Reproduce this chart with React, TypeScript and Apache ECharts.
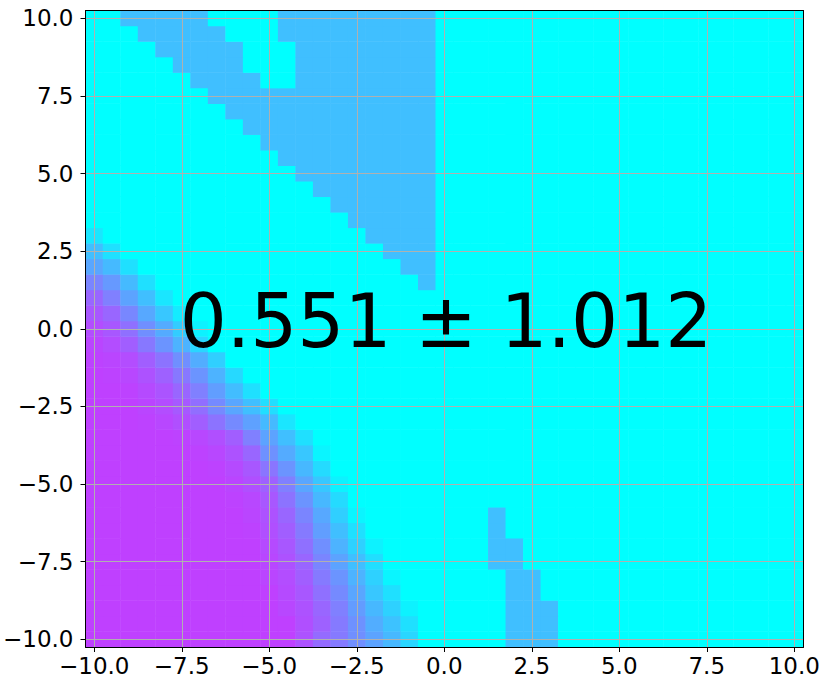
import React, { useEffect, useRef } from "react";
import * as echarts from "echarts";

// Grid cell centres (both axes), step 0.5
const cellCoords: number[] = [
  -10, -9.5, -9, -8.5, -8, -7.5, -7, -6.5, -6, -5.5, -5, -4.5, -4, -3.5, -3, -2.5, -2, -1.5, -1, -0.5,
  0, 0.5, 1, 1.5, 2, 2.5, 3, 3.5, 4, 4.5, 5, 5.5, 6, 6.5, 7, 7.5, 8, 8.5, 9, 9.5, 10,
];

const tickValues: number[] = [-10, -7.5, -5, -2.5, 0, 2.5, 5, 7.5, 10];

// Light-blue (value 0.25) runs: [y, xFrom, xTo]
const blueLevel = 0.25;
const blueRuns: [number, number, number][] = [
  [10, -9, -7], [10, -4.5, -0.5],
  [9.5, -8.5, -6.5], [9.5, -4.5, -0.5],
  [9, -8, -6], [9, -4, -0.5],
  [8.5, -7.5, -6], [8.5, -4, -0.5],
  [8, -7, -5.5], [8, -4, -0.5],
  [7.5, -6.5, -0.5],
  [7, -6, -0.5],
  [6.5, -5.5, -0.5],
  [6, -5, -0.5],
  [5.5, -4.5, -0.5],
  [5, -4, -0.5],
  [4.5, -3.5, -0.5],
  [4, -3, -0.5],
  [3.5, -2.5, -0.5],
  [3, -2, -0.5],
  [2.5, -1.5, -0.5],
  [2, -1, -0.5],
  [1.5, -0.5, -0.5],
  [-6, 1.5, 1.5], [-6.5, 1.5, 1.5],
  [-7, 1.5, 2], [-7.5, 1.5, 2],
  [-8, 2, 2.5], [-8.5, 2, 2.5],
  [-9, 2, 3], [-9.5, 2, 3], [-10, 2, 3],
];

// Purple gradient rows (values start at x = -10)
const gradientY: number[] = [
  3, 2.5, 2, 1.5, 1, 0.5, 0, -0.5, -1, -1.5, -2, -2.5, -3, -3.5,
  -4, -4.5, -5, -5.5, -6, -6.5, -7, -7.5, -8, -8.5, -9, -9.5, -10,
];
const gradientValues: number[][] = [
  [0.1],
  [0.25, 0.12],
  [0.35, 0.27, 0.12],
  [0.48, 0.4, 0.27, 0.12],
  [0.6, 0.5, 0.36, 0.25, 0.1],
  [0.66, 0.6, 0.47, 0.34, 0.22, 0.08],
  [0.7, 0.66, 0.56, 0.44, 0.33, 0.2, 0.05],
  [0.73, 0.7, 0.63, 0.53, 0.42, 0.3, 0.16],
  [0.74, 0.73, 0.7, 0.63, 0.55, 0.44, 0.32, 0.19],
  [0.75, 0.74, 0.72, 0.68, 0.62, 0.53, 0.42, 0.3, 0.15],
  [0.75, 0.75, 0.74, 0.71, 0.67, 0.6, 0.5, 0.38, 0.26, 0.12],
  [0.75, 0.75, 0.75, 0.73, 0.7, 0.65, 0.57, 0.46, 0.35, 0.25, 0.13],
  [0.75, 0.75, 0.75, 0.74, 0.72, 0.69, 0.63, 0.55, 0.46, 0.37, 0.27, 0.1],
  [0.75, 0.75, 0.75, 0.75, 0.75, 0.74, 0.72, 0.69, 0.63, 0.5, 0.36, 0.25, 0.12],
  [0.75, 0.75, 0.75, 0.75, 0.75, 0.75, 0.74, 0.72, 0.68, 0.6, 0.43, 0.33, 0.22, 0.04],
  [0.75, 0.75, 0.75, 0.75, 0.75, 0.75, 0.75, 0.74, 0.71, 0.66, 0.54, 0.42, 0.28, 0.14],
  [0.75, 0.75, 0.75, 0.75, 0.75, 0.75, 0.75, 0.75, 0.73, 0.69, 0.62, 0.5, 0.35, 0.22, 0.05],
  [0.75, 0.75, 0.75, 0.75, 0.75, 0.75, 0.75, 0.75, 0.74, 0.72, 0.66, 0.55, 0.42, 0.28, 0.14],
  [0.75, 0.75, 0.75, 0.75, 0.75, 0.75, 0.75, 0.75, 0.75, 0.73, 0.68, 0.6, 0.48, 0.34, 0.19, 0.04],
  [0.75, 0.75, 0.75, 0.75, 0.75, 0.75, 0.75, 0.75, 0.75, 0.74, 0.69, 0.63, 0.52, 0.38, 0.25, 0.12],
  [0.75, 0.75, 0.75, 0.75, 0.75, 0.75, 0.75, 0.75, 0.75, 0.75, 0.71, 0.66, 0.56, 0.44, 0.3, 0.18, 0.05],
  [0.75, 0.75, 0.75, 0.75, 0.75, 0.75, 0.75, 0.75, 0.75, 0.75, 0.72, 0.68, 0.6, 0.48, 0.36, 0.25, 0.13],
  [0.75, 0.75, 0.75, 0.75, 0.75, 0.75, 0.75, 0.75, 0.75, 0.75, 0.73, 0.7, 0.63, 0.52, 0.42, 0.3, 0.18, 0.04],
  [0.75, 0.75, 0.75, 0.75, 0.75, 0.75, 0.75, 0.75, 0.75, 0.75, 0.75, 0.71, 0.66, 0.56, 0.46, 0.35, 0.22, 0.12],
  [0.75, 0.75, 0.75, 0.75, 0.75, 0.75, 0.75, 0.75, 0.75, 0.75, 0.75, 0.72, 0.68, 0.6, 0.5, 0.39, 0.28, 0.18, 0.05],
  [0.75, 0.75, 0.75, 0.75, 0.75, 0.75, 0.75, 0.75, 0.75, 0.75, 0.75, 0.75, 0.69, 0.62, 0.52, 0.43, 0.32, 0.24, 0.12],
  [0.75, 0.75, 0.75, 0.75, 0.75, 0.75, 0.75, 0.75, 0.75, 0.75, 0.75, 0.75, 0.68, 0.58, 0.52, 0.44, 0.36, 0.28, 0.16],
];

const annotation = "0.551 ± 1.012";

function buildCells(): number[][] {
  const idx = (v: number) => cellCoords.indexOf(v);
  const grid: number[][] = cellCoords.map(() => cellCoords.map(() => 0)); // [yi][xi]
  blueRuns.forEach(([y, x0, x1]) => {
    const yi = idx(y);
    for (let xi = idx(x0); xi <= idx(x1); xi++) grid[yi][xi] = blueLevel;
  });
  gradientY.forEach((y, r) => {
    const yi = idx(y);
    gradientValues[r].forEach((v, xi) => {
      grid[yi][xi] = v;
    });
  });
  const out: number[][] = [];
  for (let yi = 0; yi < cellCoords.length; yi++) {
    for (let xi = 0; xi < cellCoords.length; xi++) out.push([xi, yi, grid[yi][xi]]);
  }
  return out;
}

const fmt = (v: number) => (v < 0 ? "\u2212" : "") + Math.abs(v).toFixed(1);

export default function App() {
  const ref = useRef<HTMLDivElement>(null);
  useEffect(() => {
    document.body.style.margin = "0";
    if (!ref.current) return;
    const chart = echarts.init(ref.current, undefined, { renderer: "svg" });
    const cats = cellCoords.map((v) => String(v));
    const font = "DejaVu Sans";
    const spine = { show: true, onZero: false, lineStyle: { color: "#000", width: 1 } };
    const hiddenParts = { axisTick: { show: false }, axisLabel: { show: false }, splitLine: { show: false } };
    const gridLine = { show: true, lineStyle: { color: "#b0b0b0", width: 1 } };
    const labelStyle = { fontSize: 23, fontFamily: font, color: "#000", formatter: fmt };
    chart.setOption({
      animation: false,
      grid: [
        { left: 85.5, top: 10.5, width: 718, height: 636.5 },
        { left: 94.25, top: 10.5, width: 700, height: 636.5 },
        { left: 85.5, top: 18.26, width: 718, height: 621 },
      ],
      xAxis: [
        { gridIndex: 0, type: "category", data: cats, position: "bottom", axisLine: spine, z: 6, ...hiddenParts },
        { gridIndex: 0, type: "category", data: cats, position: "top", axisLine: spine, z: 6, ...hiddenParts },
        {
          gridIndex: 1, type: "value", min: -10, max: 10, interval: 2.5, position: "bottom", z: 5,
          axisLine: { show: false, onZero: false },
          axisTick: { show: true, length: 5, lineStyle: { color: "#000", width: 1 } },
          axisLabel: { ...labelStyle, margin: 7 },
          splitLine: gridLine,
        },
        { gridIndex: 2, type: "value", min: -10, max: 10, show: false },
      ],
      yAxis: [
        { gridIndex: 0, type: "category", data: cats, position: "left", axisLine: spine, z: 6, ...hiddenParts },
        { gridIndex: 0, type: "category", data: cats, position: "right", axisLine: spine, z: 6, ...hiddenParts },
        { gridIndex: 1, type: "value", min: -10, max: 10, show: false },
        {
          gridIndex: 2, type: "value", min: -10, max: 10, interval: 2.5, position: "left", z: 5,
          axisLine: { show: false, onZero: false },
          axisTick: { show: true, length: 5, lineStyle: { color: "#000", width: 1 } },
          axisLabel: { ...labelStyle, margin: 12 },
          splitLine: gridLine,
        },
      ],
      visualMap: {
        show: false, type: "continuous", min: 0, max: 1, seriesIndex: 0,
        inRange: { color: ["#00ffff", "#ff00ff"] },
      },
      series: [
        {
          type: "heatmap", xAxisIndex: 0, yAxisIndex: 0, data: buildCells(),
          itemStyle: { borderWidth: 0 }, emphasis: { disabled: true },
        },
      ],
      graphic: [
        {
          type: "text", x: 446, y: 321, z: 100,
          style: {
            text: annotation, fontSize: 74, fontFamily: font, fill: "#000",
            align: "center", verticalAlign: "middle", textAlign: "center", textVerticalAlign: "middle",
          },
        },
      ],
    });
    return () => chart.dispose();
  }, []);
  return <div ref={ref} style={{ width: 830, height: 690 }} />;
}
